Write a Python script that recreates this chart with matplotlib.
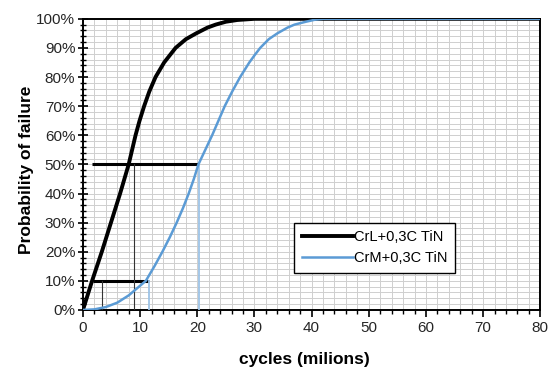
import matplotlib
matplotlib.use("Agg")
import matplotlib.pyplot as plt
from matplotlib.ticker import MultipleLocator, PercentFormatter

plt.rcParams["font.family"] = ["Liberation Sans Narrow", "Liberation Sans", "DejaVu Sans"]

# --- data --------------------------------------------------------------------
crl_x = [0, 0.8, 1.6, 3.3, 4.9, 6.5, 8.0, 8.6, 9.2, 9.9, 10.7, 11.6, 12.7, 14.2, 16.2,
         18.0, 19.8, 21.8, 23.2, 25.0, 27.0, 30.0, 80]
crl_y = [0, 5, 10, 20, 30, 40, 50, 55, 60, 65, 70, 75, 80, 85, 90,
         93, 95, 97, 98, 99, 99.6, 100, 100]

crm_x = [0, 2.0, 4.0, 6.0, 8.0, 9.5, 11.0, 12.5, 13.9, 15.2, 16.4, 17.5, 18.5, 19.4,
         20.2, 21.4, 22.6, 23.7, 24.8, 26.1, 27.5, 29.1, 30.1, 31.0, 32.5, 34.0,
         35.8, 37.0, 39.0, 40.6, 42.0, 80]
crm_y = [0, 0.2, 1, 2.5, 5, 7.5, 10, 15, 20, 25, 30, 35, 40, 45,
         50, 55, 60, 65, 70, 75, 80, 85, 87.7, 90, 93, 95,
         97, 98, 99, 99.7, 100, 100]

# reference marks: (level %, x start, x end) and (x, top %)
hlines = [(50, 1.5, 20.1), (10, 1.7, 11.6)]
vlines_black = [(9.0, 50), (3.4, 10)]
vlines_blue = [(20.3, 50), (11.6, 10)]

fig = plt.figure(figsize=(5.53, 3.69), dpi=100)
ax = fig.add_axes([0.150, 0.160, 0.827, 0.789])

for lvl, x0, x1 in hlines:
    ax.plot([x0, x1], [lvl, lvl], color="black", lw=2.2, solid_capstyle="butt", zorder=3)
for xv, top in vlines_black:
    ax.plot([xv, xv], [0, top], color="#333333", lw=0.8, zorder=3)
for xv, top in vlines_blue:
    ax.plot([xv, xv], [0, top], color="#9dc3e6", lw=1.3, zorder=3)

ax.plot(crl_x, crl_y, color="black", lw=2.8, label="CrL+0,3C TiN", zorder=4,
        solid_joinstyle="round")
ax.plot(crm_x, crm_y, color="#5b9bd5", lw=1.8, label="CrM+0,3C TiN", zorder=4,
        solid_joinstyle="round")

ax.set_xlim(0, 80)
ax.set_ylim(0, 100)
ax.xaxis.set_major_locator(MultipleLocator(10))
ax.xaxis.set_minor_locator(MultipleLocator(2))
ax.yaxis.set_major_locator(MultipleLocator(10))
ax.yaxis.set_minor_locator(MultipleLocator(2))
ax.yaxis.set_major_formatter(PercentFormatter(decimals=0))
ax.grid(which="both", color="#cfcfcf", lw=0.7, zorder=0)
ax.set_axisbelow(True)

ax.tick_params(axis="x", which="major", direction="out", length=5, width=1.2,
               labelsize=11, labelcolor="#262626", pad=3)
ax.tick_params(axis="x", which="minor", direction="out", length=3, width=1.0)
ax.tick_params(axis="y", which="major", direction="inout", length=7, width=1.2,
               labelsize=11, labelcolor="#262626", pad=2)
ax.tick_params(axis="y", which="minor", direction="inout", length=4, width=1.0)
for s in ax.spines.values():
    s.set_linewidth(1.4)
    s.set_color("black")

ax.set_xlabel("cycles (milions)", fontsize=12.5, fontweight="bold",
              family=["Liberation Sans", "DejaVu Sans"])
ax.xaxis.set_label_coords(0.485, -0.145)
ax.set_ylabel("Probability of failure", fontsize=12.5, fontweight="bold",
              family=["Liberation Sans", "DejaVu Sans"])
ax.yaxis.set_label_coords(-0.108, 0.48)

leg = ax.legend(loc="lower left", bbox_to_anchor=(0.446, 0.103, 0.384, 0.162),
                mode="expand", fontsize=10.5, frameon=True, fancybox=False,
                borderpad=0.5, handlelength=3.5, handletextpad=0.1,
                labelspacing=0.5)
leg.get_frame().set_edgecolor("black")
leg.get_frame().set_linewidth(1.0)
leg.get_frame().set_alpha(1)

fig.savefig("out.png", dpi=100)
